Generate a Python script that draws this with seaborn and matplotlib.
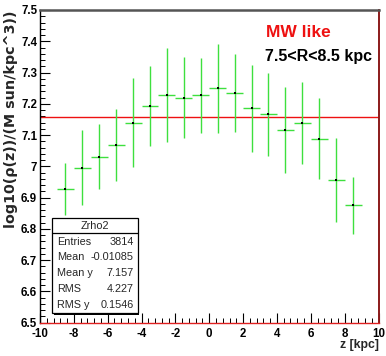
import numpy as np
import pandas as pd
import seaborn as sns
import matplotlib
matplotlib.use("Agg")
import matplotlib.pyplot as plt
from matplotlib.patches import Rectangle
from matplotlib.lines import Line2D
from matplotlib.ticker import MultipleLocator

# ---- data ----
z_centers = [-8.5, -7.5, -6.5, -5.5, -4.5, -3.5, -2.5, -1.5, -0.5,
             0.5, 1.5, 2.5, 3.5, 4.5, 5.5, 6.5, 7.5, 8.5]
log_rho = [6.927, 6.996, 7.031, 7.068, 7.140, 7.194, 7.228, 7.220, 7.227,
           7.249, 7.234, 7.186, 7.166, 7.117, 7.139, 7.088, 6.957, 6.875]
log_rho_err = [0.084, 0.120, 0.104, 0.116, 0.141, 0.128, 0.151, 0.130, 0.119,
               0.141, 0.125, 0.139, 0.132, 0.138, 0.132, 0.130, 0.134, 0.092]
bin_half_width = 0.5
mean_y_line = 7.157

stats_title = "Zrho2"
stats_names = ["Entries", "Mean", "Mean y", "RMS", "RMS y"]
stats_values = ["3814", "-0.01085", "7.157", "4.227", "0.1546"]

x_ticks = [-10, -8, -6, -4, -2, 0, 2, 4, 6, 8, 10]
y_ticks = [6.5, 6.6, 6.7, 6.8, 6.9, 7.0, 7.1, 7.2, 7.3, 7.4, 7.5]
y_tick_labels = ["6.5", "6.6", "6.7", "6.8", "6.9", "7", "7.1", "7.2", "7.3", "7.4", "7.5"]

df = pd.DataFrame({"z": z_centers, "y": log_rho, "err": log_rho_err})

# ---- figure ----
sns.set_style("ticks")
plt.rcParams["font.family"] = ["Liberation Sans", "DejaVu Sans"]

W, H = 386, 356
fig = plt.figure(figsize=(W / 100, H / 100), dpi=100)
fig.patch.set_facecolor("white")
L, R, T, B = 40, 378.5, 10, 322.7
ax = fig.add_axes([L / W, 1 - B / H, (R - L) / W, (B - T) / H])

green = "#3ee03e"
ax.errorbar(df["z"], df["y"], xerr=bin_half_width, yerr=df["err"], fmt="none",
            ecolor=green, elinewidth=1.0, capsize=0, zorder=3)
sns.scatterplot(data=df, x="z", y="y", ax=ax, color="black", s=2, marker="s",
                linewidth=0, zorder=4, legend=False)
ax.axhline(mean_y_line, color="#ee1111", lw=1.0, zorder=2)

ax.set_xlim(-10, 10)
ax.set_ylim(6.5, 7.5)
ax.set_xticks(x_ticks)
ax.set_xticklabels([str(v) for v in x_ticks])
ax.set_yticks(y_ticks)
ax.set_yticklabels(y_tick_labels)
ax.xaxis.set_minor_locator(MultipleLocator(0.4))
ax.yaxis.set_minor_locator(MultipleLocator(0.02))
ax.tick_params(axis="both", which="both", direction="in", top=False, right=False,
               colors="black")
ax.tick_params(axis="both", which="major", length=7.5, width=0.8, labelsize=8.3)
ax.tick_params(axis="both", which="minor", length=3.6, width=0.7)
ax.tick_params(axis="x", which="major", pad=4)
ax.tick_params(axis="y", which="major", pad=2)
for lab in ax.get_xticklabels() + ax.get_yticklabels():
    lab.set_fontweight("bold")

ax.set_xlabel("")
ax.set_ylabel("")
ax.spines["left"].set_color("black")
ax.spines["left"].set_linewidth(1.0)
ax.spines["bottom"].set_color("#e02020")
ax.spines["bottom"].set_linewidth(1.0)
ax.spines["top"].set_color("#555555")
ax.spines["top"].set_linewidth(1.8)
ax.spines["right"].set_color("#8b1a1a")
ax.spines["right"].set_linewidth(1.4)
for s in ax.spines.values():
    s.set_visible(True)

def fx(px):
    return px / W

def fy(py):
    return 1 - py / H

fig.text(fx(R), fy(348), "z [kpc]", ha="right", va="baseline",
         fontsize=8.8, fontweight="bold")
fig.text(fx(11.5), fy(T), "log10(\u03c1(z))/(M sun/kpc^3))", rotation=90,
         ha="center", va="top", fontsize=10.3, fontweight="bold",
         family=["DejaVu Sans"])

fig.text(fx(266), fy(37), "MW like", color="#ee1111", fontsize=12.5,
         fontweight="bold", ha="left", va="baseline")
fig.text(fx(265), fy(61.5), "7.5<R<8.5 kpc", color="black", fontsize=11.5,
         fontweight="bold", ha="left", va="baseline")

# stats box
bx0, bx1, by0, by1 = 52, 137.5, 218.3, 313.3
fig.patches.append(Rectangle((fx(bx0 + 1.5), fy(by1 + 1.5)), fx(bx1 - bx0), (by1 - by0) / H,
                             transform=fig.transFigure, facecolor="black",
                             edgecolor="none", zorder=5))
fig.patches.append(Rectangle((fx(bx0), fy(by1)), fx(bx1 - bx0), (by1 - by0) / H,
                             transform=fig.transFigure, facecolor="white",
                             edgecolor="black", lw=0.9, zorder=6))
fig.lines.append(Line2D([fx(bx0), fx(bx1)], [fy(233.3), fy(233.3)],
                        transform=fig.transFigure, color="black", lw=0.9, zorder=7))
fig.text(fx((bx0 + bx1) / 2), fy(226), stats_title, ha="center", va="center",
         fontsize=7.8, zorder=8)
row_y = [242, 257.5, 273, 289, 304.5]
for name, val, yy in zip(stats_names, stats_values, row_y):
    fig.text(fx(57), fy(yy), name, ha="left", va="center", fontsize=7.8, zorder=8)
    fig.text(fx(133.5), fy(yy), val, ha="right", va="center", fontsize=7.8, zorder=8)

fig.savefig("out.png", dpi=100, facecolor="white")
